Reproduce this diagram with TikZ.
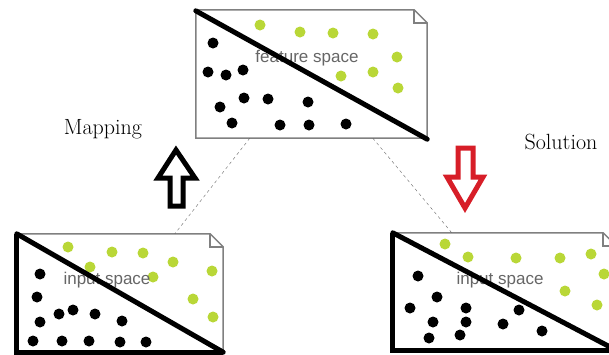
\documentclass[tikz,border=0pt]{standalone}
\usepackage{fontspec}
\newfontfamily\labelfont{Liberation Sans}
\usepackage{tikz}

\definecolor{dotgreen}{RGB}{185,215,55}
\definecolor{arrowred}{RGB}{215,30,40}

\begin{document}
\begin{tikzpicture}[x=1pt, y=-1pt,
    spacebox/.style={rectangle, inner sep=0pt},
    spacelabel/.style={font=\labelfont\fontsize{17}{19}\selectfont, text=black!60},
    sidelabel/.style={font=\fontsize{22}{24}\selectfont},
    greendot/.style={fill=dotgreen},
    blackdot/.style={fill=black},
    outline/.style={draw=black!50, line width=1.5pt},
    cut/.style={line width=5pt, line cap=round}]
            \useasboundingbox (0,0) rectangle (609,354);
            % the three spaces
            \node[spacebox, minimum width=231pt, minimum height=128pt] (feat) at (311.5,74) {};
            \node[spacebox, minimum width=206pt, minimum height=118pt] (inA) at (120,293) {};
            \node[spacebox, minimum width=223pt, minimum height=117pt] (inB) at (504.5,291.5) {};
            \foreach \b in {feat,inA,inB} {
                \draw[outline, fill=white] (\b.north west) -- ([xshift=-13pt]\b.north east) -- ([yshift=-13pt]\b.north east) -- (\b.south east) -- (\b.south west) -- cycle;
                \draw[outline] ([xshift=-13pt]\b.north east) -- ([xshift=-13pt, yshift=-13pt]\b.north east) -- ([yshift=-13pt]\b.north east);
            }
            \draw[line width=5pt] (inA.north west) -- (inA.south west) -- (inA.south east);
            \draw[line width=5pt] (inB.north west) -- (inB.south west) -- (inB.south east);
            % points
            \foreach \x/\y in {260/25, 300/32, 333/33, 373/34, 397/57, 341/76, 373/72, 398/88,
                               68/247, 112/252, 143/253, 173/262, 212/271, 90/267, 153/277, 193/299, 213/317,
                               445/244, 468/257, 516/258, 560/258, 591/254, 604/274, 565/291, 597/305}
                \fill[greendot] (\x,\y) circle[radius=5.5pt];
            \foreach \x/\y in {213/43, 208/72, 226/75, 243/70, 244/98, 268/99, 308/102, 220/107, 232/123, 280/125, 309/125, 346/124,
                               40/274, 37/297, 40/322, 59/314, 73/310, 95/314, 122/321, 33/341, 62/341, 89/341, 120/342, 146/342,
                               418/276, 437/297, 410/308, 433/322, 466/308, 466/322, 429/338, 460/335, 503/324, 519/310, 542/331}
                \fill[blackdot] (\x,\y) circle[radius=5.5pt];
            \node[spacelabel] (featlabel) at (307,58) {feature space};
            \node[spacelabel] (inAlabel) at (107,280) {input space};
            \node[spacelabel] (inBlabel) at (500,280) {input space};
            % separating lines
            \draw[cut] ([yshift=-1pt]feat.north west) -- ([yshift=-1pt]feat.south east);
            \draw[cut] (inA.north west) -- (inA.south east);
            \draw[cut] (inB.north west) -- (inB.south east);
            % links
            \draw[dashed, black!60] ([xshift=54pt]feat.south west) -- ([xshift=158pt]inA.north west);
            \draw[dashed, black!60] ([xshift=177pt]feat.south west) -- ([xshift=59pt]inB.north west);
            % arrows
            \draw[line width=5pt, fill=white, line join=miter] (176,150) -- (195,178) -- (183,178) -- (183,206) -- (170,206) -- (170,178) -- (158,178) -- cycle;
            \draw[line width=5pt, draw=arrowred, fill=white, line join=miter] (458,148) -- (473,148) -- (473,177) -- (483,177) -- (465,208) -- (447,177) -- (458,177) -- cycle;
            \node[sidelabel] (mapping) at (103,129) {Mapping};
            \node[sidelabel] (solution) at (561,142) {Solution};
\end{tikzpicture}
\end{document}
